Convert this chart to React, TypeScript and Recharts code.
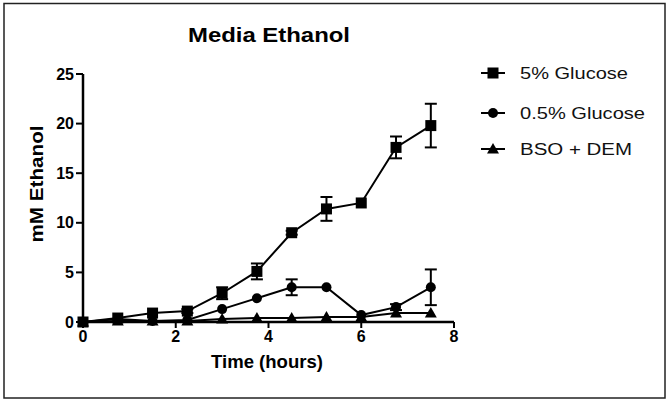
import React from 'react';
import { LineChart, Line, XAxis, YAxis, ErrorBar, Customized } from 'recharts';

const timeHours = [0, 0.75, 1.5, 2.25, 3, 3.75, 4.5, 5.25, 6, 6.75, 7.5];
const glucose5 = [0, 0.4, 0.9, 1.1, 2.9, 5.1, 9.0, 11.4, 12.0, 17.6, 19.8];
const glucose5Err = [null, null, null, 0.2, 0.6, 0.8, 0.2, 1.2, null, 1.1, 2.2];
const glucose05 = [0, 0.3, 0.1, 0.2, 1.3, 2.4, 3.5, 3.5, 0.7, 1.5, 3.5];
const glucose05Err = [null, null, null, null, null, null, 0.8, null, null, 0.3, 1.8];
const bsoDem = [0, 0.1, 0.1, 0.1, 0.3, 0.4, 0.4, 0.5, 0.5, 0.9, 0.9];
const bsoDemErr = [null, null, null, null, null, null, null, null, null, null, null];

const seriesNames = ['5% Glucose', '0.5% Glucose', 'BSO + DEM'];
const seriesShapes = ['square', 'circle', 'triangle'];
const xTicks = [0, 2, 4, 6, 8];
const yTicks = [0, 5, 10, 15, 20, 25];
const titleText = 'Media Ethanol';
const xLabelText = 'Time (hours)';
const yLabelText = 'mM Ethanol';

const data = timeHours.map((t, i) => ({
  t,
  g5: glucose5[i],
  g5e: glucose5Err[i],
  g05: glucose05[i],
  g05e: glucose05Err[i],
  bso: bsoDem[i],
  bsoe: bsoDemErr[i],
}));

const FONT = '"Liberation Sans", Arial, Helvetica, sans-serif';

function Marker({ shape, cx, cy }: { shape: string; cx: number; cy: number }) {
  if (shape === 'square') {
    return <rect x={cx - 5.5} y={cy - 5.5} width={11} height={11} fill="#000" />;
  }
  if (shape === 'circle') {
    return <circle cx={cx} cy={cy} r={5} fill="#000" />;
  }
  return (
    <polygon
      points={`${cx},${cy - 6} ${cx + 6},${cy + 4.5} ${cx - 6},${cy + 4.5}`}
      fill="#000"
    />
  );
}

const makeDot = (shape: string) => (props: any) => {
  const { cx, cy, index } = props;
  if (cx == null || cy == null) return <g key={`d-${shape}-${index}`} />;
  return (
    <g key={`d-${shape}-${index}`}>
      <Marker shape={shape} cx={cx} cy={cy} />
    </g>
  );
};

const legendTextLengths = [108, 125, 112];
const legendRows = [73, 113, 149];

function Decorations() {
  return (
    <g fontFamily={FONT}>
      <rect x={4} y={3.5} width={661} height={394.5} fill="none" stroke="#222" strokeWidth={1.5} />
      <text
        x={269}
        y={42}
        textAnchor="middle"
        fontSize={20}
        fontWeight="bold"
        fill="#000"
        textLength={162}
        lengthAdjust="spacingAndGlyphs"
      >
        {titleText}
      </text>
      <text
        x={267}
        y={368}
        textAnchor="middle"
        fontSize={18}
        fontWeight="bold"
        fill="#000"
        textLength={112}
        lengthAdjust="spacingAndGlyphs"
      >
        {xLabelText}
      </text>
      <text
        x={43}
        y={184}
        textAnchor="middle"
        fontSize={18}
        fontWeight="bold"
        fill="#000"
        transform="rotate(-90 43 184)"
        textLength={117}
        lengthAdjust="spacingAndGlyphs"
      >
        {yLabelText}
      </text>
      {seriesNames.map((name, i) => (
        <g key={name}>
          <line x1={481} x2={505} y1={legendRows[i]} y2={legendRows[i]} stroke="#000" strokeWidth={2} />
          <Marker shape={seriesShapes[i]} cx={493} cy={legendRows[i]} />
          <text
            x={520}
            y={legendRows[i] + 5.5}
            fontSize={16}
            fill="#111"
            textLength={legendTextLengths[i]}
            lengthAdjust="spacingAndGlyphs"
          >
            {name}
          </text>
        </g>
      ))}
    </g>
  );
}

export default function App() {
  const tickStyle = { fontSize: 16, fontWeight: 'bold', fill: '#000', fontFamily: FONT };
  return (
    <div style={{ position: 'absolute', left: 0, top: 0, width: 670, height: 404, background: '#fff' }}>
      <LineChart
        width={670}
        height={404}
        data={data}
        margin={{ top: 74, right: 216, bottom: 42, left: 0 }}
        style={{ fontFamily: FONT }}
      >
        <XAxis
          dataKey="t"
          type="number"
          domain={[0, 8]}
          ticks={xTicks}
          height={40}
          axisLine={{ stroke: '#000', strokeWidth: 2.5 }}
          tickLine={{ stroke: '#000', strokeWidth: 2 }}
          tickSize={6}
          tickMargin={3}
          tick={tickStyle}
          interval={0}
        />
        <YAxis
          type="number"
          domain={[0, 25]}
          ticks={yTicks}
          width={83}
          axisLine={{ stroke: '#000', strokeWidth: 2.5 }}
          tickLine={{ stroke: '#000', strokeWidth: 2 }}
          tickSize={7}
          tickMargin={2}
          tick={tickStyle}
          interval={0}
        />
        <Line
          dataKey="bso"
          stroke="#000"
          strokeWidth={2}
          dot={makeDot('triangle')}
          isAnimationActive={false}
          type="linear"
        >
          <ErrorBar dataKey="bsoe" width={6} stroke="#000" strokeWidth={2} direction="y" />
        </Line>
        <Line
          dataKey="g05"
          stroke="#000"
          strokeWidth={2}
          dot={makeDot('circle')}
          isAnimationActive={false}
          type="linear"
        >
          <ErrorBar dataKey="g05e" width={6} stroke="#000" strokeWidth={2} direction="y" />
        </Line>
        <Line
          dataKey="g5"
          stroke="#000"
          strokeWidth={2}
          dot={makeDot('square')}
          isAnimationActive={false}
          type="linear"
        >
          <ErrorBar dataKey="g5e" width={6} stroke="#000" strokeWidth={2} direction="y" />
        </Line>
        <Customized component={Decorations} />
      </LineChart>
    </div>
  );
}
